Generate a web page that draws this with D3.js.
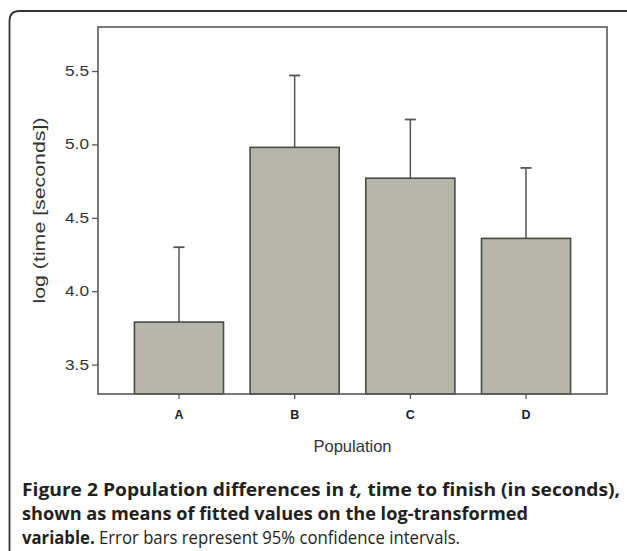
<!DOCTYPE html>
<html>
<head>
<meta charset="utf-8">
<script src="https://cdn.jsdelivr.net/npm/d3@7"></script>
<style>
  body { margin: 0; background: #fff; }
  svg { display: block; }
</style>
</head>
<body>
<svg id="chart"></svg>
<script>
// data
const categories = ['A', 'B', 'C', 'D']
const means = [3.79, 4.98, 4.77, 4.36]
const upperCI = [4.30, 5.47, 5.17, 4.84]
const yTicks = [3.5, 4.0, 4.5, 5.0, 5.5]

const width = 627; const height = 551
const plot = { left: 98, right: 607, top: 27, bottom: 394 }

const svg = d3.select('#chart')
  .attr('width', width).attr('height', height)
  .attr('viewBox', `0 0 ${width} ${height}`)

// outer figure frame (top + left, rounded corner)
svg.append('path')
  .attr('d', `M9.5,${height + 2} L9.5,21 Q9.5,11 19.5,11 L${width + 2},11`)
  .attr('fill', 'none')
  .attr('stroke', '#333')
  .attr('stroke-width', 1.8)

const x = d3.scaleBand()
  .domain(categories)
  .range([plot.left, plot.right])
  .paddingInner(0.23)
  .paddingOuter(0.315)

const y = d3.scaleLinear()
  .domain([3.3, 5.8])
  .range([plot.bottom, plot.top])

const rows = categories.map((c, i) => ({ cat: c, mean: means[i], hi: upperCI[i] }))

// error bars (upper only), drawn behind bars
const err = svg.append('g').selectAll('g').data(rows).enter().append('g')
err.append('line')
  .attr('x1', d => x(d.cat) + x.bandwidth() / 2)
  .attr('x2', d => x(d.cat) + x.bandwidth() / 2)
  .attr('y1', d => y(d.mean))
  .attr('y2', d => y(d.hi))
  .attr('stroke', '#555').attr('stroke-width', 1.5)
err.append('line')
  .attr('x1', d => x(d.cat) + x.bandwidth() / 2 - 5.5)
  .attr('x2', d => x(d.cat) + x.bandwidth() / 2 + 5.5)
  .attr('y1', d => y(d.hi))
  .attr('y2', d => y(d.hi))
  .attr('stroke', '#555').attr('stroke-width', 1.8)

svg.append('g').selectAll('rect').data(rows).enter().append('rect')
  .attr('x', d => x(d.cat))
  .attr('width', x.bandwidth())
  .attr('y', d => y(d.mean))
  .attr('height', d => y(3.3) - y(d.mean))
  .attr('fill', '#b7b6aa')
  .attr('stroke', '#4a4a46')
  .attr('stroke-width', 1.6)

// plot box
svg.append('rect')
  .attr('x', plot.left).attr('y', plot.top)
  .attr('width', plot.right - plot.left).attr('height', plot.bottom - plot.top)
  .attr('fill', 'none').attr('stroke', '#5a5a5a').attr('stroke-width', 1.6)

const yAxis = svg.append('g')
  .attr('transform', `translate(${plot.left},0)`)
  .call(d3.axisLeft(y).tickValues(yTicks).tickFormat(d3.format('.1f')).tickSize(6).tickPadding(3))
yAxis.select('.domain').remove()
yAxis.selectAll('line').attr('stroke', '#555').attr('stroke-width', 1.3)
yAxis.selectAll('text').attr('font-family', 'Arial, "Liberation Sans", sans-serif')
  .attr('font-size', 14).attr('fill', '#333')
  .attr('textLength', 24).attr('lengthAdjust', 'spacingAndGlyphs')

const xAxis = svg.append('g')
  .attr('transform', `translate(0,${plot.bottom})`)
  .call(d3.axisBottom(x).tickSize(5).tickPadding(11))
xAxis.select('.domain').remove()
xAxis.selectAll('line').attr('stroke', '#555').attr('stroke-width', 1.3)
xAxis.selectAll('text').attr('font-family', 'Arial, "Liberation Sans", sans-serif')
  .attr('font-size', 12.5).attr('font-weight', 'bold').attr('fill', '#222')

svg.append('text')
  .attr('x', (plot.left + plot.right) / 2).attr('y', 452)
  .attr('text-anchor', 'middle')
  .attr('font-family', 'Arial, "Liberation Sans", sans-serif')
  .attr('font-size', 16.5).attr('fill', '#333')
  .text('Population')

svg.append('text')
  .attr('transform', `translate(45,${(plot.top + plot.bottom) / 2}) rotate(-90)`)
  .attr('text-anchor', 'middle')
  .attr('font-family', 'Arial, "Liberation Sans", sans-serif')
  .attr('font-size', 17).attr('fill', '#333')
  .attr('textLength', 186).attr('lengthAdjust', 'spacingAndGlyphs')
  .text('log (time [seconds])')

// caption
const cap = svg.append('g')
  .attr('font-family', '"Open Sans", sans-serif')
  .attr('font-size', 17.5).attr('fill', '#231f20')

const l1 = cap.append('text').attr('x', 22).attr('y', 496).attr('font-weight', 'bold')
  .attr('textLength', 598).attr('lengthAdjust', 'spacingAndGlyphs')
l1.append('tspan').text('Figure 2 Population differences in ')
l1.append('tspan').attr('font-style', 'italic').text('t,')
l1.append('tspan').text(' time to finish (in seconds),')

cap.append('text').attr('x', 22).attr('y', 520).attr('font-weight', 'bold')
  .attr('textLength', 506).attr('lengthAdjust', 'spacingAndGlyphs')
  .text('shown as means of fitted values on the log-transformed')

const l3 = cap.append('text').attr('x', 22).attr('y', 544)
  .attr('textLength', 438).attr('lengthAdjust', 'spacingAndGlyphs')
l3.append('tspan').attr('font-weight', 'bold').text('variable.')
l3.append('tspan').text(' Error bars represent 95% confidence intervals.')
</script>
</body>
</html>
